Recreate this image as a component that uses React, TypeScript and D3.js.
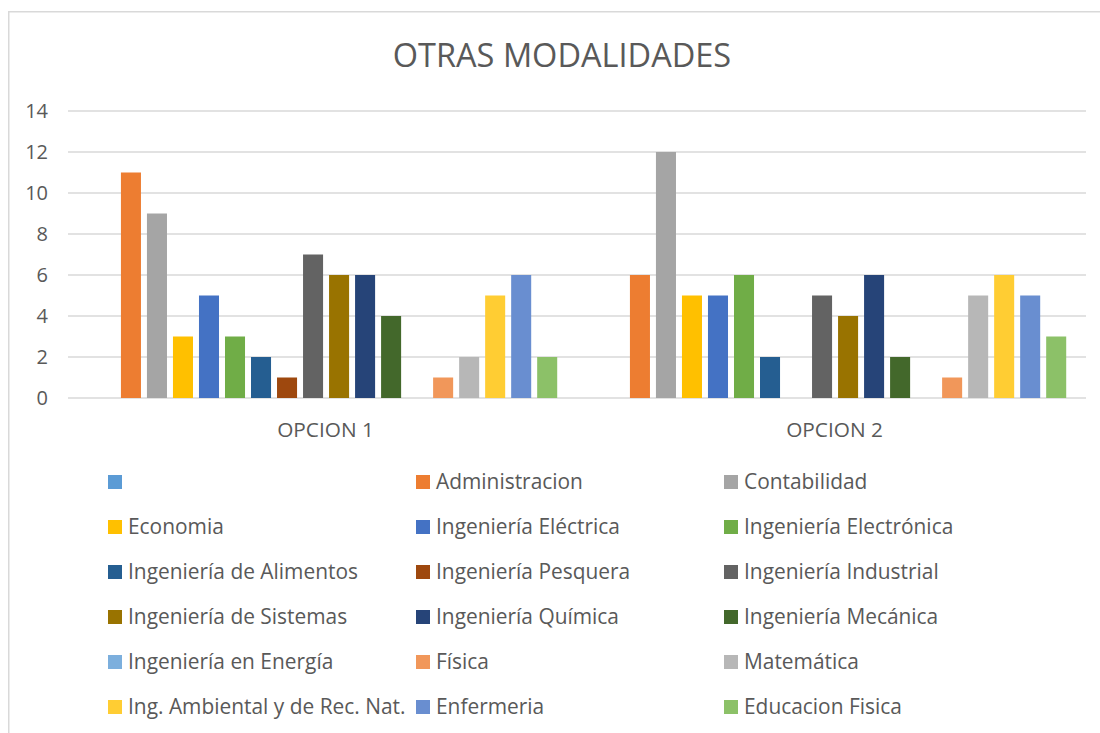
import React from "react";
import * as d3 from "d3";

const categories = ["OPCION 1", "OPCION 2"];
const seriesNames = [
  "",
  "Administracion",
  "Contabilidad",
  "Economia",
  "Ingeniería Eléctrica",
  "Ingeniería Electrónica",
  "Ingeniería de Alimentos",
  "Ingeniería Pesquera",
  "Ingeniería Industrial",
  "Ingeniería de Sistemas",
  "Ingeniería Química",
  "Ingeniería Mecánica",
  "Ingeniería en Energía",
  "Física",
  "Matemática",
  "Ing. Ambiental y de Rec. Nat.",
  "Enfermeria",
  "Educacion Fisica",
];
const opcion1Values = [0, 11, 9, 3, 5, 3, 2, 1, 7, 6, 6, 4, 0, 1, 2, 5, 6, 2];
const opcion2Values = [0, 6, 12, 5, 5, 6, 2, 0, 5, 4, 6, 2, 0, 1, 5, 6, 5, 3];
const seriesColors = [
  "#5B9BD5", "#ED7D31", "#A5A5A5", "#FFC000", "#4472C4", "#70AD47",
  "#255E91", "#9E480E", "#636363", "#997300", "#264478", "#43682B",
  "#7CAFDD", "#F1975A", "#B7B7B7", "#FFCD33", "#698ED0", "#8CC168",
];
const yTicks = [0, 2, 4, 6, 8, 10, 12, 14];
const title = "OTRAS MODALIDADES";

const W = 1100;
const H = 733;
const FONT = "'Open Sans', sans-serif";
const TEXT = "#595959";
const GRID = "#d9d9d9";

export default function App() {
  const plot = { left: 68, right: 1086, top: 111, bottom: 398 };
  const x0 = d3.scaleBand<string>().domain(categories).range([plot.left, plot.right]);
  const bw = x0.bandwidth();
  const x1 = d3
    .scaleBand<string>()
    .domain(seriesNames.map((_, i) => String(i)))
    .range([bw * 0.047, bw * 0.967])
    .paddingInner(0.23)
    .paddingOuter(0.115);
  const y = d3.scaleLinear().domain([0, 14]).range([plot.bottom, plot.top]);
  const valuesByCat = [opcion1Values, opcion2Values];

  const legendCols = [108, 416, 724];
  const legendTop = 475;
  const legendRowStep = 45;
  const sw = 14;

  return (
    <svg
      width={W}
      height={H}
      style={{ position: "absolute", left: 0, top: 0, background: "#fff" }}
      fontFamily={FONT}
    >
      <rect x={0} y={0} width={W} height={H} fill="#fff" />
      <rect x={8.75} y={11.75} width={W + 20} height={H + 20} fill="none" stroke={GRID} strokeWidth={1.5} />
      <text x={562} y={67} textAnchor="middle" fontSize={32.5} fill={TEXT}>
        {title}
      </text>
      {yTicks.map((t) => (
        <g key={t}>
          <line x1={plot.left} x2={plot.right} y1={y(t)} y2={y(t)} stroke={GRID} strokeWidth={1.5} />
          <text x={48} y={y(t)} dy="0.36em" textAnchor="end" fontSize={20} fill={TEXT}>
            {t}
          </text>
        </g>
      ))}
      {categories.map((c, ci) => (
        <g key={c} transform={`translate(${x0(c)},0)`}>
          {valuesByCat[ci].map((v, si) =>
            v > 0 ? (
              <rect
                key={si}
                x={x1(String(si))}
                y={y(v)}
                width={x1.bandwidth()}
                height={y(0) - y(v)}
                fill={seriesColors[si]}
              />
            ) : null
          )}
          <text x={bw / 2 + 3} y={437} textAnchor="middle" fontSize={20.8} fill={TEXT}>
            {c}
          </text>
        </g>
      ))}
      {seriesNames.map((name, i) => {
        const cx = legendCols[i % 3];
        const cy = legendTop + Math.floor(i / 3) * legendRowStep;
        return (
          <g key={i}>
            <rect x={cx} y={cy} width={sw} height={sw} fill={seriesColors[i]} />
            <text x={cx + 20} y={cy + 14} fontSize={20.9} fill={TEXT}>
              {name}
            </text>
          </g>
        );
      })}
    </svg>
  );
}
